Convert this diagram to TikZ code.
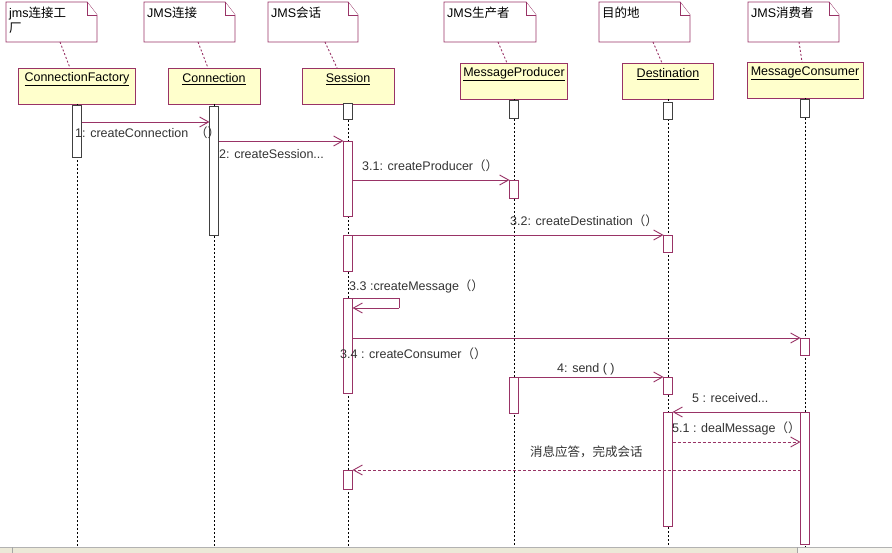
\documentclass[tikz,border=0pt]{standalone}
\usepackage{fontspec}
\setmainfont{Liberation Sans}
\newfontfamily\cjk{Noto Sans CJK SC}
\usetikzlibrary{arrows.meta,calc}
\definecolor{mar}{HTML}{993366}
\definecolor{boxfill}{HTML}{FFFFCC}
\definecolor{lab}{HTML}{333333}
\definecolor{barblk}{HTML}{404040}
\definecolor{stripc}{HTML}{ECE9D8}
\definecolor{stripl}{HTML}{F6F5EE}
\newcommand\mknote[4]{%
  \node[notearea, minimum width={#3-#2}] (#1) at (#2,2) {};
  \draw[notedraw] (#1.north west) -- ([xshift=-10]#1.north east) -- ([yshift=-13]#1.north east)
     -- (#1.south east) -- (#1.south west) -- cycle;
  \draw[notedraw] ([xshift=-10]#1.north east) -- ([xshift=-10,yshift=-13]#1.north east) -- ([yshift=-13]#1.north east);
  \node[notetext] (#1t) at ([xshift=3,yshift=-5]#1.north west) {#4};}
\newcommand\actbar[5]{%
  \node[actb, #5, minimum height={#4-#3}] (#1) at (#2,#3) {};}
\begin{document}
\begin{tikzpicture}[x=1pt,y=-1pt,
  font=\fontsize{12.5}{15}\selectfont,
  notearea/.style={minimum height=40, inner sep=0, outer sep=0, anchor=north west},
  notedraw/.style={draw=mar, line width=0.9pt, fill=white},
  notetext/.style={anchor=north west, inner sep=0, align=left, text=black},
  objbox/.style={draw=mar, line width=0.9pt, fill=boxfill, minimum height=36, inner sep=0, outer sep=0, anchor=north},
  objlabel/.style={inner sep=0, text=black},
  life/.style={draw=black, line width=0.8pt, dash pattern=on 2pt off 2pt},
  notelink/.style={draw=mar, line width=0.9pt, dash pattern=on 2pt off 2pt},
  actb/.style={draw=mar, fill=white, line width=0.9pt, minimum width=9, inner sep=0, outer sep=0, anchor=north},
  blk/.style={draw=barblk},
  msg/.style={draw=mar, line width=0.9pt, -{Straight Barb[length=9pt,width=10pt,line width=0.9pt]}},
  ret/.style={msg, dash pattern=on 3pt off 2pt},
  mlab/.style={anchor=west, inner sep=0, text=lab},
]
\useasboundingbox (0,0) rectangle (892,553);
\fill[white] (0,0) rectangle (892,553);

% notes
\mknote{n1}{6}{97}{jms{\cjk 连接工}\\{\cjk 厂}}
\mknote{n2}{144}{235}{JMS{\cjk 连接}}
\mknote{n3}{268}{358}{JMS{\cjk 会话}}
\mknote{n4}{444}{536}{JMS{\cjk 生产者}}
\mknote{n5}{599}{690}{{\cjk 目的地}}
\mknote{n6}{748}{839}{JMS{\cjk 消费者}}

% objects
\node[objbox, minimum width=117] (o1) at (77,68) {};
\node[objbox, minimum width=92] (o2) at (214,68) {};
\node[objbox, minimum width=92] (o3) at (348,68) {};
\node[objbox, minimum width=107] (o4) at (514,63) {};
\node[objbox, minimum width=91] (o5) at (668,63) {};
\node[objbox, minimum width=116] (o6) at (805,62) {};
\node[objlabel] (o1l) at (77,79) {\underline{ConnectionFactory}};
\node[objlabel] (o2l) at (214,79) {\underline{Connection}};
\node[objlabel] (o3l) at (348,79) {\underline{Session}};
\node[objlabel] (o4l) at (514,74) {\underline{MessageProducer}};
\node[objlabel] (o5l) at (668,74) {\underline{Destination}};
\node[objlabel] (o6l) at (805,73) {\underline{MessageConsumer}};

% note links
\draw[notelink] ([xshift=8.5]n1.south) -- ([xshift=-7]o1.north);
\draw[notelink] ([xshift=8.5]n2.south) -- ([xshift=-6]o2.north);
\draw[notelink] ([xshift=12]n3.south) -- ([xshift=-11]o3.north);
\draw[notelink] ([xshift=8]n4.south) -- ([xshift=-7]o4.north);
\draw[notelink] ([xshift=8.5]n5.south) -- ([xshift=-6]o5.north);
\draw[notelink] ([xshift=5.5]n6.south) -- ([xshift=-3]o6.north);

% lifelines
\foreach \o in {o1,o2,o3,o4,o5,o6}{
  \coordinate (\o e) at (\o.south |- 0,547);
  \draw[life] (\o.south) -- (\o e);
}

% activation bars
\actbar{cfb}{77}{105}{157}{blk}
\actbar{conb}{214}{106}{235}{blk}
\actbar{ses0}{348}{103}{119}{blk}
\actbar{ses1}{348}{141}{216}{}
\actbar{ses2}{348}{235}{271}{}
\actbar{ses3}{348}{298}{393}{}
\actbar{ses4}{348}{470}{489}{}
\actbar{mp0}{514}{100}{118}{blk}
\actbar{mp1}{514}{180}{198}{}
\actbar{mp2}{514}{377}{413}{}
\actbar{de0}{668}{102}{119}{blk}
\actbar{de1}{668}{235}{252}{}
\actbar{de2}{668}{377}{394}{}
\actbar{de3}{668}{412}{526}{}
\actbar{mc0}{805}{99}{117}{blk}
\actbar{mc1}{805}{338}{355}{}
\actbar{mc2}{805}{412}{544}{}

% messages
\draw[msg] (cfb.east |- 0,122) -- (conb.west |- 0,122);
\node[mlab] (l1) at (75,133) {1: createConnection\ \ {\cjk （）}};
\draw[msg] (conb.east |- ses1.north) -- (ses1.north west);
\node[mlab] (l2) at (219,154) {2: createSession...};
\draw[msg] (ses1.east |- mp1.north) -- (mp1.north west);
\node[mlab] (l31) at (362,166) {3.1: createProducer{\cjk （）}};
\draw[msg] (ses2.north east) -- (de1.north west);
\node[mlab] (l32) at (510,221) {3.2: createDestination{\cjk （）}};
\draw[draw=mar, line width=0.9pt] (ses3.north east) -- ++(46.5,0) -- ++(0,10) coordinate (s33);
\draw[msg] (s33) -- (ses3.east |- s33);
\node[mlab] (l33) at (349,286) {3.3 :createMessage{\cjk （）}};
\draw[msg] (ses3.east |- mc1.north) -- (mc1.north west);
\node[mlab] (l34) at (340,354) {3.4 : createConsumer{\cjk （）}};
\draw[msg] (mp2.north east) -- (de2.north west);
\node[mlab] (l4) at (557,369) {4: send ( )};
\draw[msg] (mc2.north west) -- (de3.north east);
\node[mlab] (l5) at (692,398) {5 : received...};
\draw[ret] (de3.east |- 0,442) -- (mc2.west |- 0,442);
\node[mlab] (l51) at (672,428) {5.1 : dealMessage{\cjk （）}};
\draw[ret] (mc2.west |- ses4.north) -- (ses4.north east);
\node[mlab] (lr) at (530,452) {\cjk 消息应答，完成会话};

% bottom strip
\fill[stripc] (0,547) rectangle (797,553);
\fill[stripl] (797,547) rectangle (892,553);
\draw[draw=gray!60, line width=0.6pt] (0,547) -- (892,547);
\draw[draw=gray!70, line width=0.6pt] (12,547) -- (12,553);
\draw[draw=gray!70, line width=0.6pt] (797,547) -- (797,553);
\end{tikzpicture}
\end{document}
